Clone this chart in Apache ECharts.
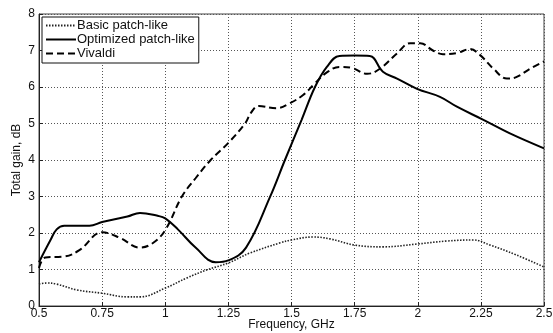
<!DOCTYPE html>
<html><head><meta charset="utf-8">
<script src="https://cdn.jsdelivr.net/npm/echarts@6/dist/echarts.min.js"></script>
<style>html,body{margin:0;padding:0;background:#fff}#c{width:553px;height:333px}</style>
</head><body><div id="c"></div>
<script>
var basicX = [0.5,0.53,0.57,0.65,0.75,0.85,0.9,1.0,1.086,1.165,1.25,1.335,1.455,1.5,1.585,1.652,1.75,1.862,2.0,2.115,2.22,2.286,2.39,2.5];
var basicY = [0.6,0.63,0.6,0.44,0.35,0.25,0.25,0.49,0.77,0.99,1.18,1.45,1.73,1.81,1.89,1.84,1.67,1.62,1.70,1.78,1.81,1.67,1.40,1.07];
var optX = [0.5,0.545,0.57,0.6,0.70,0.75,0.85,0.9,0.97,1.0,1.05,1.12,1.2,1.25,1.32,1.415,1.474,1.54,1.593,1.64,1.69,1.75,1.81,1.862,1.918,1.997,2.088,2.155,2.26,2.365,2.5];
var optY = [1.2,1.8,2.1,2.2,2.2,2.3,2.45,2.55,2.47,2.4,2.1,1.6,1.2,1.25,1.6,2.99,4.0,5.1,6.0,6.55,6.85,6.86,6.85,6.42,6.23,5.95,5.73,5.46,5.1,4.73,4.32];
var vivX = [0.5,0.525,0.595,0.66,0.75,0.82,0.9,0.95,1.0,1.066,1.12,1.18,1.25,1.316,1.34,1.37,1.44,1.494,1.546,1.593,1.64,1.69,1.74,1.80,1.85,1.918,1.97,2.01,2.06,2.10,2.155,2.207,2.246,2.30,2.353,2.39,2.445,2.5];
var vivY = [1.04,1.33,1.35,1.53,2.02,1.87,1.6,1.72,2.08,3.0,3.5,4.0,4.47,5.0,5.3,5.48,5.42,5.56,5.78,6.1,6.4,6.55,6.52,6.36,6.5,6.92,7.2,7.2,7.0,6.9,6.93,7.04,6.88,6.5,6.23,6.27,6.5,6.7];
var names = ['Basic patch-like','Optimized patch-like','Vivaldi'];
var xTicks = {min:0.5,max:2.5,interval:0.25};
var yTicks = {min:0,max:8,interval:1};

function pairs(xs, ys){ return xs.map(function(x,i){return [x, ys[i]];}); }
var font = 'Liberation Sans, Arial, sans-serif';
var chart = echarts.init(document.getElementById('c'), null, {renderer:'canvas'});
var axisCommon = {
  nameMoveOverlap:false,
  axisLine:{show:true,lineStyle:{color:'#222',width:1}},
  axisTick:{show:true,inside:true,length:4,lineStyle:{color:'#222'}},
  splitLine:{show:true,lineStyle:{color:'#555',type:[1,2],width:1}},
  axisLabel:{color:'#111',fontFamily:font,fontSize:12},
  nameTextStyle:{color:'#111',fontFamily:font,fontSize:12}
};
chart.setOption({
  animation:false,
  backgroundColor:'#fff',
  grid:{left:39,right:9,top:14,bottom:27,containLabel:false,outerBoundsMode:'none',show:true,borderColor:'#444',borderWidth:1,backgroundColor:'transparent'},
  legend:{
    data:names, orient:'vertical', left:42, top:17, itemGap:1, itemWidth:30, itemHeight:14,
    padding:[2,4,3,3], borderColor:'#111', borderWidth:1, backgroundColor:'#fff',
    itemStyle:{opacity:0},
    textStyle:{color:'#111',fontFamily:font,fontSize:13,padding:[0,0,0,-4]}
  },
  xAxis:Object.assign({}, axisCommon, {
    type:'value', min:xTicks.min, max:xTicks.max, interval:xTicks.interval,
    name:'Frequency, GHz', nameLocation:'middle', nameGap:13,
    axisLabel:Object.assign({}, axisCommon.axisLabel, {margin:2, formatter:function(v){return String(+v.toFixed(2));}})
  }),
  yAxis:Object.assign({}, axisCommon, {
    type:'value', min:yTicks.min, max:yTicks.max, interval:yTicks.interval,
    name:'Total gain, dB', nameLocation:'middle', nameGap:16,
    axisLabel:Object.assign({}, axisCommon.axisLabel, {margin:4})
  }),
  series:[
    {name:names[0], type:'line', data:pairs(basicX,basicY), smooth:0.4, showSymbol:false, symbol:'none',
     lineStyle:{color:'#222',width:1.6,type:[1.5,1.5]}, itemStyle:{color:'#222'}},
    {name:names[1], type:'line', data:pairs(optX,optY), smooth:0.4, showSymbol:false, symbol:'none',
     lineStyle:{color:'#000',width:2}, itemStyle:{color:'#000'}},
    {name:names[2], type:'line', data:pairs(vivX,vivY), smooth:0.4, showSymbol:false, symbol:'none',
     lineStyle:{color:'#000',width:2,type:[7,4]}, itemStyle:{color:'#000'}}
  ]
});
</script></body></html>
